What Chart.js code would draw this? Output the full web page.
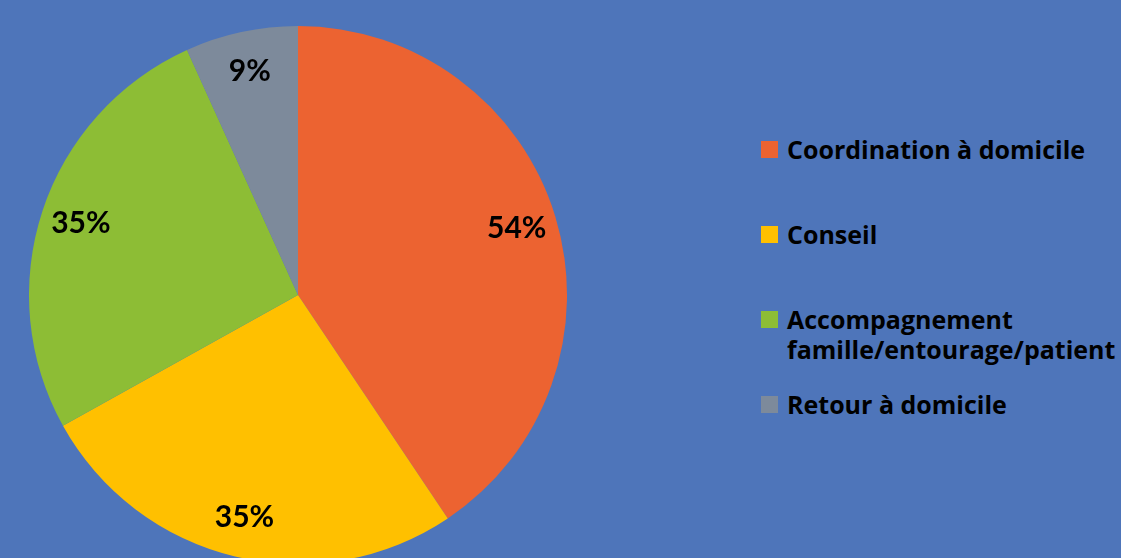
<!DOCTYPE html>
<html lang="fr">
<head>
  <meta charset="UTF-8" />
  <title>Répartition des interventions</title>
  <script src="https://cdn.jsdelivr.net/npm/chart.js"></script>
  <style>
    html, body {
      margin: 0;
      width: 1121px;
      height: 558px;
      overflow: hidden;
      background: #4e75ba;
      font-family: Lato, "DejaVu Sans", sans-serif;
    }
    #pieBox {
      position: absolute;
      left: 29px;
      top: 26px;
      width: 538px;
      height: 538px;
    }
    #legend {
      position: absolute;
      left: 761px;
      top: 134px;
      margin: 0;
      padding: 0;
      list-style: none;
    }
    #legend li {
      display: flex;
      align-items: flex-start;
      height: 85px;
      font-family: "Open Sans", sans-serif;
      font-weight: 700;
      font-size: 25px;
      line-height: 30px;
      color: #000;
      white-space: nowrap;
    }
    #legend .swatch {
      flex: none;
      width: 17px;
      height: 17px;
      margin: 7px 9px 0 0;
    }
  </style>
</head>
<body>
  <div id="pieBox"><canvas id="pie"></canvas></div>
  <ul id="legend"></ul>

  <script>
    const categories = [
      "Coordination à domicile",
      "Conseil",
      ["Accompagnement", "famille/entourage/patient"],
      "Retour à domicile"
    ];
    const values = [54, 35, 35, 9];
    const colors = ["#ec6331", "#ffc000", "#8dbd35", "#7d8a9b"];

    // pourcentages écrits dans chaque part, vers le bord extérieur
    const sliceLabels = {
      id: "sliceLabels",
      afterDatasetsDraw(chart) {
        const ctx = chart.ctx;
        const meta = chart.getDatasetMeta(0);
        ctx.save();
        ctx.fillStyle = "#000";
        ctx.font = "700 30px Lato, sans-serif";
        ctx.textAlign = "center";
        ctx.textBaseline = "middle";
        meta.data.forEach((arc, i) => {
          const p = arc.getProps(["x", "y", "startAngle", "endAngle", "outerRadius"], true);
          const mid = (p.startAngle + p.endAngle) / 2;
          const r = p.outerRadius * 0.85;
          ctx.fillText(values[i] + "%", p.x + Math.cos(mid) * r, p.y + Math.sin(mid) * r);
        });
        ctx.restore();
      }
    };

    new Chart(document.getElementById("pie"), {
      type: "pie",
      data: {
        labels: categories,
        datasets: [{
          data: values,
          backgroundColor: colors,
          borderWidth: 0
        }]
      },
      options: {
        responsive: true,
        maintainAspectRatio: false,
        animation: false,
        plugins: {
          legend: { display: false },
          tooltip: { enabled: false }
        }
      },
      plugins: [sliceLabels]
    });

    // légende à droite, construite à partir des mêmes tableaux
    const legend = document.getElementById("legend");
    categories.forEach((label, i) => {
      const li = document.createElement("li");
      const sw = document.createElement("span");
      sw.className = "swatch";
      sw.style.background = colors[i];
      const txt = document.createElement("span");
      txt.innerHTML = [].concat(label).join("<br>");
      li.appendChild(sw);
      li.appendChild(txt);
      legend.appendChild(li);
    });
  </script>
</body>
</html>
